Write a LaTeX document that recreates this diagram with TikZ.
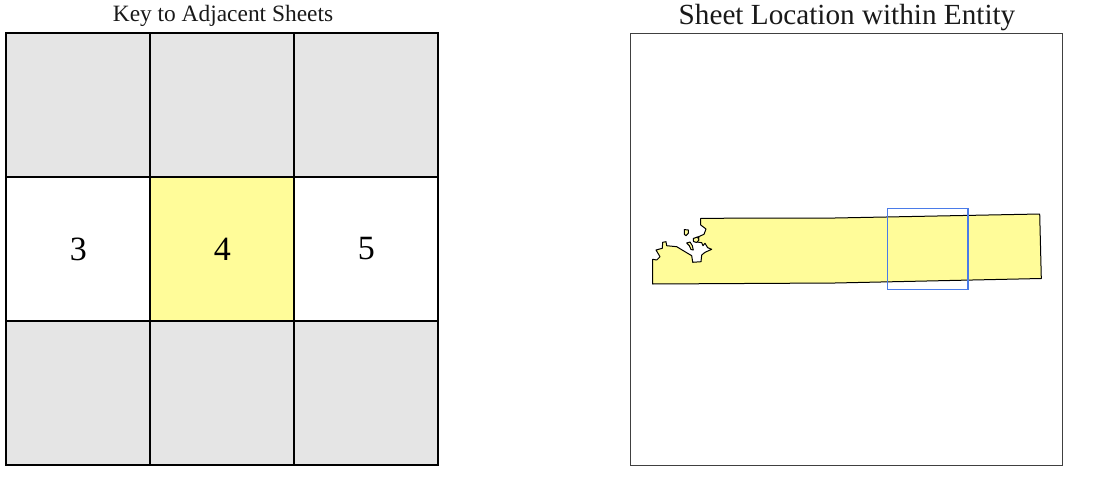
\documentclass[tikz,border=0pt]{standalone}
\usepackage{fontspec}
\setmainfont{Liberation Serif}
\definecolor{grayfill}{HTML}{E5E5E5}
\definecolor{yfill}{HTML}{FFFC99}
\definecolor{bluebox}{HTML}{4A7BE8}
\tikzset{
  cell/.style={draw=black,line width=2pt,minimum width=144pt,minimum height=144pt,inner sep=0pt,outer sep=0pt,anchor=center,font=\fontsize{34}{36}\selectfont},
  ttl/.style={inner sep=0pt,anchor=base,text=black!90},
  coast/.style={draw=black,line width=1pt,line join=round}
}
\begin{document}
\begin{tikzpicture}[x=1pt,y=-1pt]
\useasboundingbox (0,0) rectangle (1108,495);
\node[ttl,font=\fontsize{23.4}{25}\selectfont] (t1) at (223,22) {Key to Adjacent Sheets};
\node[ttl,font=\fontsize{29.2}{31}\selectfont] (t2) at (847,24.5) {Sheet Location within Entity};
\node[cell,fill=grayfill] (a1) at (78.4,105) {};
\node[cell,fill=grayfill] (a2) at (222.4,105) {};
\node[cell,fill=grayfill] (a3) at (366.4,105) {};
\node[cell,fill=white] (b1) at (78.4,249) {3};
\node[cell,fill=yfill] (b2) at (222.4,249) {4};
\node[cell,fill=white] (b3) at (366.4,249) {5};
\node[cell,fill=grayfill] (c1) at (78.4,393) {};
\node[cell,fill=grayfill] (c2) at (222.4,393) {};
\node[cell,fill=grayfill] (c3) at (366.4,393) {};
\node[draw=black!75,line width=1pt,minimum width=432pt,minimum height=432pt,inner sep=0pt] (frame) at (846.5,249.3) {};
\draw[coast,fill=yfill]
 (700.7,218.3) -- (835,218) -- (1039.7,214) -- (1041.3,278.5) -- (835,283) -- (652.7,284) -- (652.7,259.3)
 -- (656.7,260) -- (660,256.7) -- (656,250) -- (662.3,248.3) -- (662.7,242.3) -- (666,241.7) -- (666.7,245.7)
 -- (676.7,246.7) -- (685,251.7) -- (691.7,255.7) -- (692.7,262.3) -- (701,261.7) -- (701.7,255) -- (705,252.3)
 -- (711.7,249.3) -- (707.7,247.7) -- (705,243.3) -- (703,245.7) -- (701.7,242.7) -- (697,242) -- (699,237.5)
 -- (695,238.3) -- (704,234.3) -- (706,229) -- (700.7,225) -- cycle;
\draw[coast,fill=yfill] (684.3,229.6) -- (688.3,230) -- (688.3,233.3) -- (686,235.7) -- (684.3,234.3) -- cycle;
\draw[coast,fill=yfill] (693.3,238.5) -- (697.5,237) -- (699,240) -- (696.5,242.5) -- (693.5,241.5) -- cycle;
\draw[coast,fill=yfill] (686.7,243) -- (690,242) -- (692.3,245.7) -- (693.3,250) -- (691,249.5) -- (689.3,245.7) -- cycle;
\draw[bluebox,line width=1.2pt] (887.2,208.7) rectangle (967.9,289.7);
\end{tikzpicture}
\end{document}
